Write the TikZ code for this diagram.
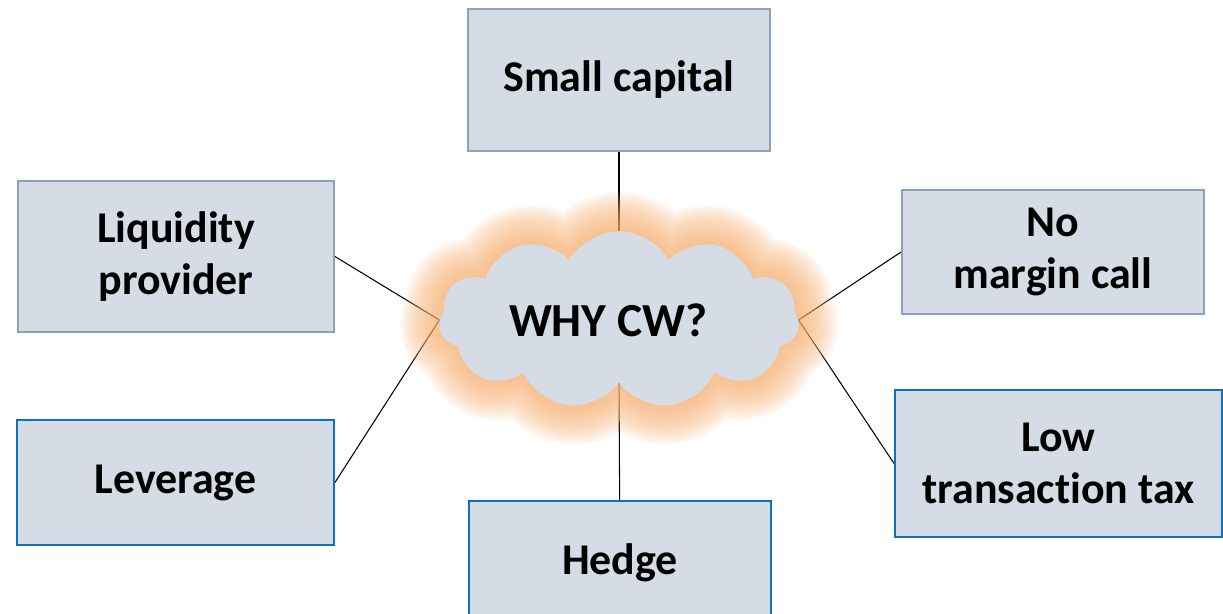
\documentclass[tikz,border=0pt]{standalone}
\usepackage{fontspec}
\setmainfont{Carlito}[Ligatures=NoCommon]
\usepackage{tikz}
\usetikzlibrary{shapes.symbols,backgrounds,positioning}
\definecolor{boxfill}{HTML}{D6DCE5}
\definecolor{greyedge}{HTML}{8EA1BB}
\definecolor{blueedge}{HTML}{0F72C1}
\definecolor{glow}{HTML}{F5B072}
\tikzset{
block/.style={
  rectangle,
  draw=greyedge,
  fill=boxfill,
  line width=1.1pt,
  align=center,
  font=\fontsize{25}{30}\selectfont\bfseries,
  minimum width=6.04cm,
  minimum height=2.48cm},
blueblock/.style={block, draw=blueedge},
whycloud/.style={
  cloud,
  cloud puffs=11,
  cloud puff arc=120,
  aspect=2,
  minimum width=7.2cm,
  minimum height=3.55cm,
  inner sep=0pt},
line/.style={draw, line width=0.6pt}
}
\begin{document}
\begin{tikzpicture}[x=0.02cm,y=-0.02cm]
    \useasboundingbox (0,0) rectangle (1223,613);
    % halo round the cloud
    \foreach \w in {3,6,...,45}
      \node [whycloud, draw=glow, line width=\w pt, draw opacity=0.09] at (619,320) {};
    \node [whycloud, fill=boxfill] (why) at (619,320) {};
    \node [font=\fontsize{27}{32}\selectfont\bfseries] at ([xshift=-6]why.center) {WHY CW?};
    % boxes
    \node [block, minimum height=2.84cm] (small) at (619,80) {Small capital};
    \node [block, minimum width=6.32cm, minimum height=3.02cm] (liquidity) at (176,256.5) {Liquidity\\provider};
    \node [blueblock, minimum width=6.34cm, minimum height=2.5cm] (leverage) at (175.5,482.5) {Leverage};
    \node [block] (nomargin) at (1053,252) {No\\margin call};
    \node [blueblock, minimum width=6.54cm, minimum height=2.94cm] (lowtax) at (1058.5,463.5) {Low\\transaction tax};
    \node [blueblock] (hedge) at (620,563) {Hedge};
    % connectors
    \begin{scope}[on background layer]
    \path [line] (small) -- (why.north);
    \path [line] (hedge) -- (why.south);
    \path [line] (liquidity.east) -- (why.west);
    \path [line] (leverage.east) -- (why.west);
    \path [line] (nomargin.west) -- (why.east);
    \path [line] (lowtax.west) -- (why.east);
    \end{scope}
\end{tikzpicture}
\end{document}
